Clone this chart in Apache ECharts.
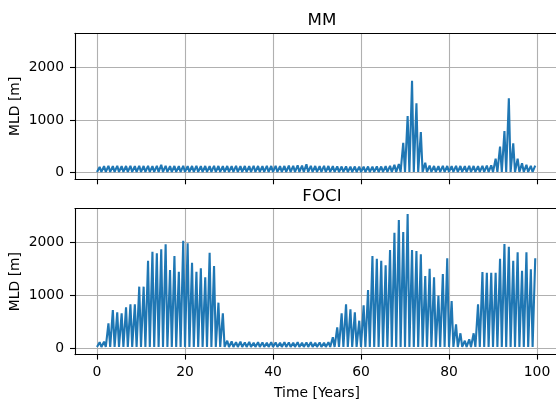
<!DOCTYPE html>
<html>
<head>
<meta charset="utf-8">
<script src="https://cdn.jsdelivr.net/npm/echarts@6/dist/echarts.min.js"></script>
<style>html,body{margin:0;padding:0;background:#fff}#c{width:556px;height:399px}</style>
</head>
<body>
<div id="c"></div>
<script>
// Years (start of each year)
var years = [];
for (var y = 0; y < 100; y++) years.push(y);

// MM: yearly winter maximum MLD [m]
var mmPeak = [
  110,125,130,125,130,125,128,130,125,130,
  128,130,125,130,150,130,125,128,125,130,
  125,128,130,125,128,125,130,128,125,128,
  125,130,125,128,125,130,128,125,130,128,
  130,125,128,135,130,140,135,160,130,128,
  125,130,128,125,120,118,120,115,118,115,
  115,118,115,120,118,125,130,150,165,569,
  1076,1746,1317,772,190,135,128,125,130,128,
  125,130,128,125,130,128,125,130,135,140,
  266,494,791,1411,557,266,178,150,130,135
];
// MM: yearly summer minimum MLD [m]
var mmTrough = [
  15,15,15,15,15,15,15,15,15,15,
  15,15,15,15,15,15,15,15,15,15,
  15,15,15,15,15,15,15,15,15,15,
  15,15,15,15,15,15,15,15,15,15,
  15,15,15,15,15,15,15,15,15,15,
  15,15,15,15,15,15,15,15,15,15,
  15,15,15,15,15,15,15,15,15,15,
  15,15,15,15,15,15,15,15,15,15,
  15,15,15,15,15,15,15,15,15,15,
  15,15,15,15,15,15,15,15,15,15
];
// FOCI: yearly winter maximum MLD [m]
var fociPeak = [
  110,120,468,721,677,658,772,829,829,1164,
  1164,1657,1828,1797,1873,1968,1480,1746,1448,2036,
  1987,1619,1448,1512,1341,1809,1556,860,658,139,
  125,110,120,105,115,100,110,105,100,110,
  105,100,110,105,100,110,100,105,110,100,
  105,100,110,203,393,658,829,734,677,518,
  810,1101,1746,1695,1657,1569,1860,2188,2429,2200,
  2543,1860,1841,1778,1366,1505,1341,993,1404,1702,
  892,449,279,139,165,279,829,1442,1429,1429,
  1429,1695,1973,1922,1657,1816,1467,1816,1493,1702
];
// FOCI: yearly summer minimum MLD [m]
var fociTrough = [
  20,20,20,20,20,20,20,20,20,20,
  20,20,20,20,20,20,20,20,20,20,
  20,20,20,20,20,20,20,20,20,20,
  20,20,20,20,20,20,20,20,20,20,
  20,20,20,20,20,20,20,20,20,20,
  20,20,20,20,20,20,20,20,20,20,
  20,20,20,20,20,20,20,20,20,20,
  20,20,20,20,20,20,20,20,20,20,
  20,20,20,20,20,20,20,20,20,20,
  20,20,20,20,20,20,20,20,20,20
];
var xTicks = [0, 20, 40, 60, 80, 100];
var yTicks = [0, 1000, 2000];
var titles = ['MM', 'FOCI'];
var yName = 'MLD [m]';
var xName = 'Time [Years]';

function build(peak, trough) {
  var d = [];
  for (var i = 0; i < years.length; i++) {
    d.push([years[i], trough[i]]);
    d.push([years[i] + 0.6, peak[i]]);
  }
  return d;
}

var font = 'DejaVu Sans';
var fs = 13.9;
var gridTops = [33.3, 208.6];
var spine = { show: true, onZero: false, lineStyle: { color: '#000', width: 1.1 } };
function plain(v) { return String(v); }
function xAxis(idx, showLabels) {
  return {
    type: 'value', gridIndex: idx, min: -5, max: 105, position: 'bottom',
    axisLine: spine,
    axisTick: { show: true, length: 5, customValues: xTicks, lineStyle: { color: '#000', width: 1.1 } },
    axisLabel: { show: showLabels, customValues: xTicks, formatter: plain, margin: 11, fontFamily: font, fontSize: fs, color: '#000' },
    splitLine: { show: true, lineStyle: { color: '#b0b0b0', width: 1.1 } },
    name: showLabels ? xName : '', nameLocation: 'middle', nameGap: 32, nameMoveOverlap: false,
    nameTextStyle: { fontFamily: font, fontSize: fs, color: '#000' }
  };
}
function topSpine(idx) {
  return {
    type: 'value', gridIndex: idx, min: -5, max: 105, position: 'top',
    axisLine: spine, axisTick: { show: false }, axisLabel: { show: false }, splitLine: { show: false }
  };
}
function yAxis(idx) {
  return {
    type: 'value', gridIndex: idx, min: -125, max: 2645,
    axisLine: spine,
    axisTick: { show: true, length: 5, customValues: yTicks, lineStyle: { color: '#000', width: 1.1 } },
    axisLabel: { customValues: yTicks, formatter: plain, margin: 11, fontFamily: font, fontSize: fs, color: '#000' },
    splitLine: { show: true, lineStyle: { color: '#b0b0b0', width: 1.1 } },
    name: yName, nameLocation: 'middle', nameGap: 53, nameRotate: 90, nameMoveOverlap: false,
    nameTextStyle: { fontFamily: font, fontSize: fs, color: '#000' }
  };
}

var chart = echarts.init(document.getElementById('c'), null, { renderer: 'canvas' });
chart.setOption({
  animation: false,
  backgroundColor: '#fff',
  title: [
    { text: titles[0], left: 317, top: 7.5, textAlign: 'center', textStyle: { fontFamily: font, fontSize: 16.7, fontWeight: 'normal', color: '#000' } },
    { text: titles[1], left: 317, top: 182.8, textAlign: 'center', textStyle: { fontFamily: font, fontSize: 16.7, fontWeight: 'normal', color: '#000' } }
  ],
  grid: [
    { left: 75, top: gridTops[0], width: 484, height: 146, show: false, outerBoundsMode: 'none', containLabel: false },
    { left: 75, top: gridTops[1], width: 484, height: 146, show: false, outerBoundsMode: 'none', containLabel: false }
  ],
  xAxis: [xAxis(0, false), xAxis(1, true), topSpine(0), topSpine(1)],
  yAxis: [yAxis(0), yAxis(1)],
  series: [
    { type: 'line', xAxisIndex: 0, yAxisIndex: 0, data: build(mmPeak, mmTrough), showSymbol: false, lineStyle: { color: '#1f77b4', width: 2.1 }, itemStyle: { color: '#1f77b4' }, clip: true },
    { type: 'line', xAxisIndex: 1, yAxisIndex: 1, data: build(fociPeak, fociTrough), showSymbol: false, lineStyle: { color: '#1f77b4', width: 2.1 }, itemStyle: { color: '#1f77b4' }, clip: true }
  ]
});
</script>
</body>
</html>
